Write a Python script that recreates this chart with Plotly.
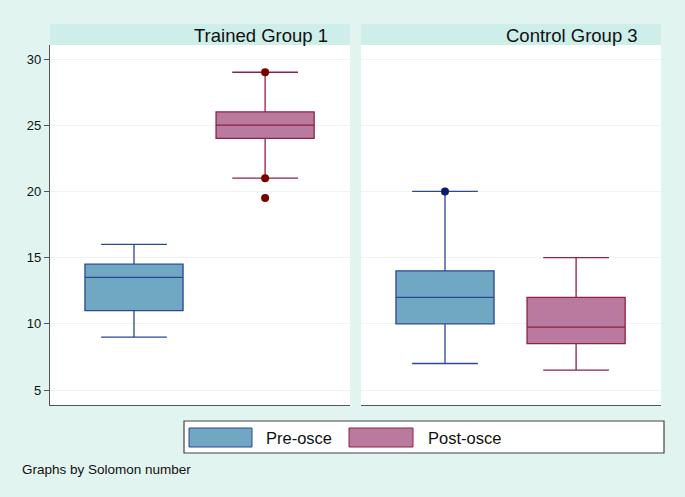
import plotly.graph_objects as go

# box statistics
groups = ["Trained Group 1", "Control Group 3"]
series = ["Pre-osce", "Post-osce"]
pos = [0.28, 0.717]

q1 = {"Pre-osce": [11, 10], "Post-osce": [24, 8.5]}
med = {"Pre-osce": [13.5, 12], "Post-osce": [25, 9.75]}
q3 = {"Pre-osce": [14.5, 14], "Post-osce": [26, 12]}
lo = {"Pre-osce": [9, 7], "Post-osce": [21, 6.5]}
hi = {"Pre-osce": [16, 20], "Post-osce": [29, 15]}
# marked points
pts = {"Pre-osce": [[], [20]], "Post-osce": [[29, 21, 19.5], []]}

fill = {"Pre-osce": "#70a8c4", "Post-osce": "#b97a9e"}
edge = {"Pre-osce": "#2c4796", "Post-osce": "#8e2242"}
dot = {"Pre-osce": "#0b1b72", "Post-osce": "#7a0000"}

W, H = 685, 497
bg = "#e1f4ef"
strip = "#cdeee9"

fig = go.Figure()
for gi, g in enumerate(groups):
    xa = "x" if gi == 0 else "x2"
    ya = "y" if gi == 0 else "y2"
    for si, s in enumerate(series):
        fig.add_trace(go.Box(
            x=[pos[si]], q1=[q1[s][gi]], median=[med[s][gi]], q3=[q3[s][gi]],
            lowerfence=[lo[s][gi]], upperfence=[hi[s][gi]],
            width=0.327, whiskerwidth=0.67, boxpoints=False,
            fillcolor=fill[s], line=dict(color=edge[s], width=1.3),
            xaxis=xa, yaxis=ya, showlegend=False, hoverinfo="skip"))
        if pts[s][gi]:
            fig.add_trace(go.Scatter(
                x=[pos[si]] * len(pts[s][gi]), y=pts[s][gi], mode="markers",
                marker=dict(color=dot[s], size=8), xaxis=xa, yaxis=ya,
                showlegend=False, hoverinfo="skip"))

px = lambda v: v / W
py = lambda v: 1 - v / H

ydom = [py(405), py(45)]
yrange = [5 - 15 / 13.24, 30 + 14 / 13.24]
axis_y = dict(range=yrange, domain=ydom, tickvals=[5, 10, 15, 20, 25, 30],
              showgrid=True, gridcolor="#edf4f2", gridwidth=1, zeroline=False)

fig.update_layout(
    width=W, height=H, autosize=False,
    margin=dict(l=0, r=0, t=0, b=0),
    paper_bgcolor=bg, plot_bgcolor="white",
    font=dict(family="Liberation Sans, Arial, sans-serif", color="#111"),
    xaxis=dict(domain=[px(50), px(350)], range=[0, 1], showticklabels=False,
               showgrid=False, zeroline=False, showline=True, linecolor="#555", linewidth=1.3),
    xaxis2=dict(domain=[px(361), px(661)], range=[0, 1], showticklabels=False,
                showgrid=False, zeroline=False, showline=True, linecolor="#555", linewidth=1.3),
    yaxis=dict(**axis_y, showline=True, linecolor="#555", linewidth=1.3,
               ticks="outside", ticklen=5, tickcolor="#555",
               tickfont=dict(size=13, color="#111")),
    yaxis2=dict(**axis_y, anchor="x2", showticklabels=False, showline=False, ticks=""),
)

# strip headers
for x0, x1, g, tx in [(50, 350, groups[0], 330), (361, 661, groups[1], 640)]:
    fig.add_shape(type="rect", xref="paper", yref="paper", x0=px(x0), x1=px(x1),
                  y0=py(45), y1=py(24), fillcolor=strip, line_width=0, layer="below")
    fig.add_annotation(text=g, xref="paper", yref="paper", x=px(tx), y=py(35),
                       xanchor="right", yanchor="middle", showarrow=False,
                       font=dict(size=18.5, color="#111"))

# legend
fig.add_shape(type="rect", xref="paper", yref="paper", x0=px(184), x1=px(664),
              y0=py(453), y1=py(421), fillcolor="white", line=dict(color="#444", width=1.2))
for s, (a, b, t) in zip(series, [(189, 252, 264), (349, 413, 426)]):
    fig.add_shape(type="rect", xref="paper", yref="paper", x0=px(a), x1=px(b),
                  y0=py(447), y1=py(428), fillcolor=fill[s], line=dict(color=edge[s], width=1))
    fig.add_annotation(text=s, xref="paper", yref="paper", x=px(t), y=py(437.5),
                       xanchor="left", yanchor="middle", showarrow=False,
                       font=dict(size=16.5, color="#111"))

fig.add_annotation(text="Graphs by Solomon number", xref="paper", yref="paper",
                   x=px(20), y=py(469), xanchor="left", yanchor="middle",
                   showarrow=False, font=dict(size=13.5, color="#111"))

fig.write_html("out.html", config={"displayModeBar": False},
               post_script="document.body.style.margin='0';document.body.style.background='%s';" % bg)
